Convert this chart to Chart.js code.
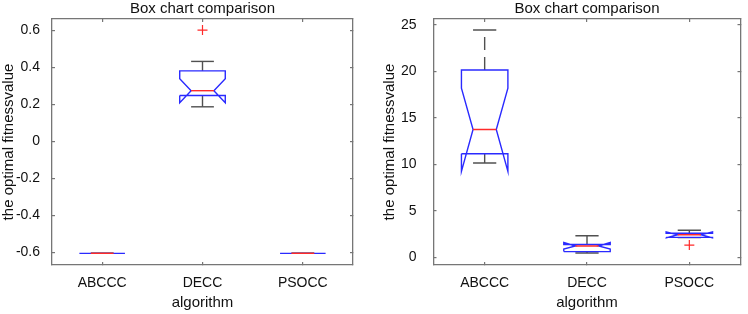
<!DOCTYPE html>
<html><head><meta charset="utf-8">
<script src="https://cdn.jsdelivr.net/npm/chart.js@4/dist/chart.umd.min.js"></script>
<style>
html,body{margin:0;padding:0;background:#fff;}
.panel{position:absolute;top:0;width:374px;height:314px;}
#p1{left:0}
#p2{left:374px}
</style></head><body>
<div class="panel" id="p1"><canvas id="c1"></canvas></div>
<div class="panel" id="p2"><canvas id="c2"></canvas></div>
<script>
// ---------- data ----------
const categories = ['ABCCC', 'DECC', 'PSOCC'];
const chartTitle = 'Box chart comparison';
const xTitle = 'algorithm';
const yTitle = 'the optimal fitnessvalue';

// left panel
const leftYTicks = [-0.6, -0.4, -0.2, 0, 0.2, 0.4, 0.6];
const leftWhiskerLow  = [-0.605, 0.186, -0.605];
const leftQ1          = [-0.605, 0.247, -0.605];
const leftNotchLow    = [-0.605, 0.208, -0.605];
const leftMedian      = [-0.605, 0.273, -0.605];
const leftNotchHigh   = [-0.605, 0.338, -0.605];
const leftQ3          = [-0.605, 0.380, -0.605];
const leftWhiskerHigh = [-0.605, 0.431, -0.605];
const leftOutliers    = [[], [0.6], []];

// right panel
const rightYTicks = [0, 5, 10, 15, 20, 25];
const rightWhiskerLow  = [10.15, 0.47, 2.12];
const rightQ1          = [11.15, 0.62, 2.15];
const rightNotchLow    = [9.25, 0.90, 2.10];
const rightMedian      = [13.75, 1.22, 2.43];
const rightNotchHigh   = [18.20, 1.60, 2.74];
const rightQ3          = [20.15, 1.38, 2.60];
const rightWhiskerHigh = [24.45, 2.32, 2.92];
const rightOutliers    = [[], [], [1.32]];

// ---------- styles ----------
const FONT = "'Liberation Sans', Arial, Helvetica, sans-serif";
const AXIS_GRAY = '#767676';
const TEXT = '#111';
const BLUE = '#2a2aff';
const RED = '#ff2a2a';
const WHISKER = '#505050';
const BOX_HALF = 0.227;
const LINE_W = 1.4;

function seg(points, color, dash) {
  return {data: points, showLine: true, borderColor: color, backgroundColor: color,
    borderWidth: LINE_W, borderDash: dash || [], pointRadius: 0, pointHoverRadius: 0,
    fill: false, tension: 0};
}

function buildDatasets(s) {
  const ds = [];
  const w = BOX_HALF, h = BOX_HALF / 2;
  categories.forEach((c, i) => {
    const x = i + 1;
    ds.push(seg([{x, y: s.q3[i]}, {x, y: s.wHigh[i]}], WHISKER, [13, 7]));
    ds.push(seg([{x, y: s.q1[i]}, {x, y: s.wLow[i]}], WHISKER, [13, 7]));
    ds.push(seg([{x: x - h, y: s.wHigh[i]}, {x: x + h, y: s.wHigh[i]}], WHISKER));
    ds.push(seg([{x: x - h, y: s.wLow[i]}, {x: x + h, y: s.wLow[i]}], WHISKER));
  });
  categories.forEach((c, i) => {
    const x = i + 1;
    ds.push(seg([
      {x: x - w, y: s.q1[i]}, {x: x - w, y: s.nLow[i]}, {x: x - h, y: s.med[i]},
      {x: x - w, y: s.nHigh[i]}, {x: x - w, y: s.q3[i]}, {x: x + w, y: s.q3[i]},
      {x: x + w, y: s.nHigh[i]}, {x: x + h, y: s.med[i]}, {x: x + w, y: s.nLow[i]},
      {x: x + w, y: s.q1[i]}, {x: x - w, y: s.q1[i]}
    ], BLUE));
  });
  categories.forEach((c, i) => {
    const x = i + 1;
    ds.push(seg([{x: x - h, y: s.med[i]}, {x: x + h, y: s.med[i]}], RED));
  });
  const pts = [];
  s.outliers.forEach((arr, i) => arr.forEach(v => pts.push({x: i + 1, y: v})));
  ds.push({data: pts, showLine: false, pointStyle: 'cross', pointRadius: 5, pointHoverRadius: 5,
    borderColor: RED, backgroundColor: RED, pointBorderWidth: 1.2, borderWidth: 1.2});
  ds.forEach((d, k) => d.order = -k);
  return ds;
}

function makeChart(id, s, o) {
  const fixedTicks = (vals) => (scale) => { scale.ticks = vals.map(v => ({value: v})); };
  const xTicks = categories.map((c, i) => i + 1);
  const gridOpts = {drawOnChartArea: false, tickLength: -3, color: AXIS_GRAY, lineWidth: 1.2};
  const borderOpts = {color: AXIS_GRAY, width: 1.3};
  new Chart(document.getElementById(id), {
    type: 'scatter',
    data: {datasets: buildDatasets(s)},
    options: {
      responsive: true, maintainAspectRatio: false, animation: false, events: [],
      layout: {padding: {left: 0, top: 0, right: o.padRight, bottom: 0}},
      plugins: {
        legend: {display: false}, tooltip: {enabled: false},
        title: {display: true, text: chartTitle, fullSize: false, color: TEXT,
          font: {family: FONT, size: 15, weight: 'normal', lineHeight: 1.2},
          padding: {top: 0, bottom: 1}}
      },
      scales: {
        x: {type: 'linear', position: 'bottom', min: 0.5, max: 3.5,
          afterBuildTicks: fixedTicks(xTicks),
          afterFit: sc => { sc.height = 49; sc.paddingLeft = 0; sc.paddingRight = 0; },
          ticks: {callback: v => categories[Math.round(v) - 1], padding: 13, color: TEXT,
            font: {family: FONT, size: 14}, maxRotation: 0, autoSkip: false},
          grid: gridOpts, border: borderOpts,
          title: {display: true, text: xTitle, color: TEXT, font: {family: FONT, size: 15},
            padding: {top: 0, bottom: 2}}},
        x2: {type: 'linear', position: 'top', min: 0.5, max: 3.5,
          afterBuildTicks: fixedTicks(xTicks),
          afterFit: sc => { sc.height = 0; sc.paddingLeft = 0; sc.paddingRight = 0; },
          ticks: {display: false}, grid: gridOpts, border: borderOpts},
        y: {type: 'linear', position: 'left', min: o.yMin, max: o.yMax,
          afterBuildTicks: fixedTicks(o.yTicks),
          afterFit: sc => { sc.width = o.yWidth; sc.paddingTop = 0; sc.paddingBottom = 0; },
          ticks: {callback: v => String(v), padding: o.yPad, color: TEXT,
            font: {family: FONT, size: 14}, autoSkip: false},
          grid: gridOpts, border: borderOpts,
          title: {display: true, text: yTitle, color: TEXT, font: {family: FONT, size: 15},
            padding: {top: o.yTitlePad, bottom: 0}}},
        y2: {type: 'linear', position: 'right', min: o.yMin, max: o.yMax,
          afterBuildTicks: fixedTicks(o.yTicks),
          afterFit: sc => { sc.width = 0; sc.paddingTop = 0; sc.paddingBottom = 0; },
          ticks: {display: false}, grid: gridOpts, border: borderOpts}
      }
    }
  });
}

makeChart('c1', {
  wLow: leftWhiskerLow, q1: leftQ1, nLow: leftNotchLow, med: leftMedian,
  nHigh: leftNotchHigh, q3: leftQ3, wHigh: leftWhiskerHigh, outliers: leftOutliers
}, {yTicks: leftYTicks, yMin: -0.668, yMax: 0.66, yWidth: 52, yPad: 15, yTitlePad: 0, padRight: 21});

makeChart('c2', {
  wLow: rightWhiskerLow, q1: rightQ1, nLow: rightNotchLow, med: rightMedian,
  nHigh: rightNotchHigh, q3: rightQ3, wHigh: rightWhiskerHigh, outliers: rightOutliers
}, {yTicks: rightYTicks, yMin: -0.82, yMax: 25.64, yWidth: 59.5, yPad: 20, yTitlePad: 7, padRight: 7.5});
</script>
</body></html>
